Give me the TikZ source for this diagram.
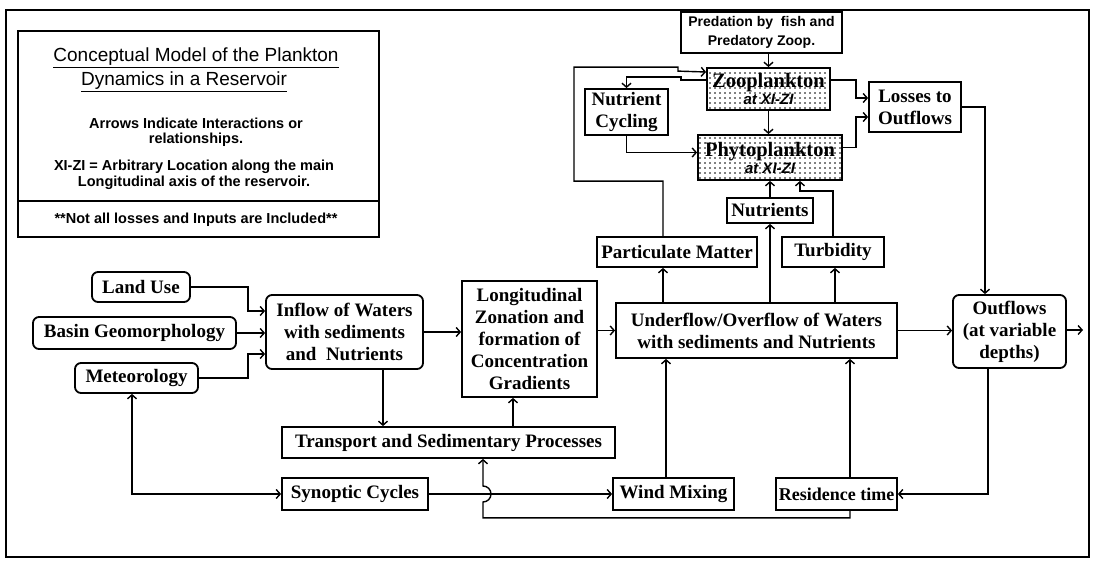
\documentclass[tikz,border=0pt]{standalone}
\usepackage{fontspec}
\setmainfont{Liberation Serif}
\newfontfamily\legendfont{Liberation Sans}
\usetikzlibrary{arrows.meta,patterns.meta}

\newcommand\rsvfont{\bfseries\fontsize{19}{22}\selectfont}
\newcommand\xizi[1]{{\legendfont\bfseries\itshape\fontsize{15}{15}\selectfont #1}}

\begin{document}
\begin{tikzpicture}[x=1pt,y=-1pt,
    box/.style={draw,line width=1.8pt,fill=white,align=center,inner sep=0pt,font=\rsvfont},
    rbox/.style={box,rounded corners=6pt},
    plank/.style={draw,line width=1.8pt,align=center,inner sep=0pt,
      font=\bfseries\fontsize{20.5}{17}\selectfont,pattern={Dots[distance=5pt,radius=0.85pt]}},
    note/.style={align=center,font=\legendfont\bfseries\fontsize{14.5}{15.5}\selectfont},
    heading/.style={font=\legendfont\fontsize{19}{24}\selectfont},
    move/.style={->,>={Straight Barb[length=4pt,width=9pt]},line width=1.4pt,draw}]

    \useasboundingbox (0,0) rectangle (1096,573);
    \draw[line width=1.2pt] (6,10) rectangle (1089,557);

    % legend
    \draw[line width=1.3pt] (18,31) rectangle (379,237);
    \draw[line width=1.3pt] (18,201) -- (379,201);
    \node[heading] (title1) at (196,58) {\underline{Conceptual Model of the Plankton}};
    \node[heading] (title2) at (184,82) {\underline{Dynamics in a Reservoir}};
    \node[note] (arrows) at (196,132) {Arrows Indicate Interactions or\\relationships.};
    \node[note] (xizi) at (194,175) {XI-ZI = Arbitrary Location along the main\\Longitudinal axis of the reservoir.};
    \node[note] (notall) at (196,220) {**Not all losses and Inputs are Included**};

    % top part
    \node[box,font=\legendfont\bfseries\fontsize{14}{19}\selectfont,minimum width=161pt,minimum height=41pt]
      (pred) at (761.5,32.5) {Predation by\ \ fish and\\Predatory Zoop.};
    \node[plank,minimum width=123pt,minimum height=42pt] (zoo) at (768.5,89) {Zooplankton\\\xizi{at XI-ZI}};
    \node[plank,minimum width=144pt,minimum height=45pt] (phyto) at (770,157.5) {Phytoplankton\\\xizi{at XI-ZI}};
    \node[box,minimum width=83pt,minimum height=46pt] (ncyc) at (626.5,112) {Nutrient\\Cycling};
    \node[box,minimum width=92pt,minimum height=50pt] (losses) at (915,107) {Losses to\\Outflows};
    \node[box,minimum width=86pt,minimum height=25pt] (nutr) at (770,210.5) {Nutrients};
    \node[box,minimum width=160pt,minimum height=30pt] (part) at (677,252) {Particulate Matter};
    \node[box,minimum width=102pt,minimum height=30pt] (turb) at (833,252) {Turbidity};

    % middle row
    \node[rbox,minimum width=98pt,minimum height=30pt] (landuse) at (141,287) {Land Use};
    \node[rbox,minimum width=203pt,minimum height=32pt] (basin) at (134.5,333) {Basin Geomorphology};
    \node[rbox,minimum width=123pt,minimum height=30pt] (meteo) at (136.5,378) {Meteorology};
    \node[rbox,minimum width=157pt,minimum height=74pt] (inflow) at (344.5,332) {Inflow of Waters\\with sediments\\and\ \ Nutrients};
    \node[box,minimum width=135pt,minimum height=116pt] (long) at (529.5,339) {Longitudinal\\Zonation and\\formation of\\Concentration\\Gradients};
    \node[box,minimum width=281pt,minimum height=55pt] (under) at (756.5,330.5) {Underflow/Overflow of Waters\\with sediments and Nutrients};
    \node[rbox,minimum width=113pt,minimum height=73pt] (outflows) at (1009.5,331.5) {Outflows\\(at variable\\depths)};

    % bottom rows
    \node[box,minimum width=333pt,minimum height=31pt] (trans) at (448.5,442.5) {Transport and Sedimentary Processes};
    \node[box,minimum width=146pt,minimum height=32pt] (synop) at (355,494) {Synoptic Cycles};
    \node[box,minimum width=121pt,minimum height=32pt] (wind) at (673.5,494) {Wind Mixing};
    \node[box,font=\bfseries\fontsize{18}{22}\selectfont,minimum width=121pt,minimum height=32pt] (resid) at (836.5,494) {Residence time};

    % plankton links
    \path[move] (pred.south -| zoo.north) -- (zoo.north);
    \path[move] (zoo.south) -- (zoo.south |- phyto.north);
    \path[move] ([yshift=9pt]zoo.west) -- ++(-25,0) -- ++(0,-3) -| (ncyc.north);
    \path[move] ([xshift=-14pt]part.north) -- ++(0,-55) -- ++(-89,0) -- ++(0,-114) -- ++(104,0) -- ++(0,4) -- ([yshift=17pt]zoo.west);
    \path[move] (ncyc.south) |- ([yshift=5pt]phyto.west);
    \path[move] ([yshift=9pt]zoo.east) -- ++(25,0) |- ([yshift=9pt]losses.west);
    \path[move] ([yshift=10pt]phyto.east) -- ++(13,0) |- ([yshift=-10pt]losses.west);
    \path[move] (losses.east) -| ([xshift=-24.5pt]outflows.north);
    \path[move] (nutr.north) -- (nutr.north |- phyto.south);
    \path[move] (turb.north) -- ++(0,-45) -| ([xshift=30pt]phyto.south);

    % from the underflow
    \path[move] ([xshift=-14pt]part.south |- under.north) -- ([xshift=-14pt]part.south);
    \path[move] (nutr.south |- under.north) -- (nutr.south);
    \path[move] ([xshift=2pt]turb.south |- under.north) -- ([xshift=2pt]turb.south);
    \path[move] (under.east) -- (under.east -| outflows.west);
    \coordinate (outend) at (1083,330);
    \path[move] (outflows.east |- outend) -- (outend);
    \path[move] ([xshift=-21.5pt]outflows.south) |- (resid.east);
    \path[move] ([xshift=13.5pt]resid.north) -- ([xshift=13.5pt]resid.north |- under.south);
    \path[move] ([xshift=-7.5pt]wind.north) -- ([xshift=-7.5pt]wind.north |- under.south);
    \coordinate (hop) at ([xshift=34.5pt]trans.south |- synop.east);
    \path[move] ([xshift=13.5pt]resid.south) -- ++(0,7) -| ([yshift=-8pt]hop)
      arc[start angle=90,end angle=-90,radius=8] -- ([xshift=34.5pt]trans.south);
    \path[move] (synop.east) -- (wind.west);

    % inputs
    \path[move] ([xshift=-16.5pt]long.south |- trans.north) -- ([xshift=-16.5pt]long.south);
    \path[move] ([xshift=38.5pt]inflow.south) -- ([xshift=38.5pt]inflow.south |- trans.north);
    \path[move] (inflow.east) -- (inflow.east -| long.west);
    \path[move] (under.west -| long.east) -- (under.west);
    \path[move] (landuse.east) -- ++(57,0) |- ([yshift=21pt]inflow.west);
    \path[move] (basin.east) -- (basin.east -| inflow.west);
    \path[move] (meteo.east) -- ++(49,0) |- ([yshift=-22pt]inflow.west);
    \path[move,<->] ([xshift=-4.5pt]meteo.south) |- (synop.west);

  \end{tikzpicture}
\end{document}
